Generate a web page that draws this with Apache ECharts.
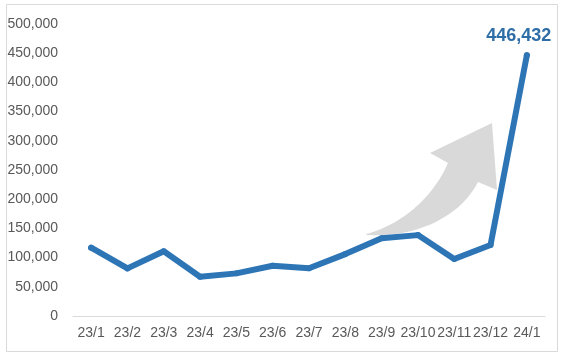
<!DOCTYPE html>
<html><head><meta charset="utf-8">
<script src="https://cdn.jsdelivr.net/npm/echarts@6/dist/echarts.min.js"></script>
<style>html,body{margin:0;padding:0;background:#fff}#c{width:563px;height:358px}</style>
</head><body><div id="c"></div>
<script>
const categories = ['23/1','23/2','23/3','23/4','23/5','23/6','23/7','23/8','23/9','23/10','23/11','23/12','24/1'];
const values = [117000, 81500, 111000, 67300, 73000, 86000, 81700, 106000, 133000, 138500, 97600, 121600, 446432];
const yTicks = {min: 0, max: 500000, interval: 50000};

function bez(p0, p1, p2, p3, n) {
  const out = [];
  for (let i = 0; i <= n; i++) {
    const t = i / n, u = 1 - t;
    out.push([
      u*u*u*p0[0] + 3*u*u*t*p1[0] + 3*u*t*t*p2[0] + t*t*t*p3[0],
      u*u*u*p0[1] + 3*u*u*t*p1[1] + 3*u*t*t*p2[1] + t*t*t*p3[1]
    ]);
  }
  return out;
}
const arrowPts = [].concat(
  bez([366,234],[398,226],[432,200],[448,163], 20),
  [[430,153],[492,123],[497,190]],
  bez([478,182],[462,214],[420,238],[367,235], 20)
);

const chart = echarts.init(document.getElementById('c'), null, {renderer: 'canvas'});
const lastIdx = values.length - 1;
chart.setOption({
  animation: false,
  backgroundColor: '#fff',
  graphic: [
    {type: 'rect', shape: {x: 6.5, y: 4.5, width: 551, height: 347}, style: {fill: 'none', stroke: '#d9d9d9', lineWidth: 1}, z: -10},
    {type: 'polygon', shape: {points: arrowPts}, style: {fill: '#d9d9d9'}, z: -5}
  ],
  grid: {left: 73, right: 18, top: 24, bottom: 42, containLabel: false},
  xAxis: {
    type: 'category', data: categories, boundaryGap: true,
    axisLine: {lineStyle: {color: '#d9d9d9', width: 1}},
    axisTick: {show: false},
    axisLabel: {color: '#595959', fontFamily: 'Liberation Sans, Arial', fontSize: 14, margin: 10, interval: 0}
  },
  yAxis: {
    type: 'value', min: yTicks.min, max: yTicks.max, interval: yTicks.interval,
    splitLine: {show: false}, axisLine: {show: false}, axisTick: {show: false},
    axisLabel: {color: '#595959', fontFamily: 'Liberation Sans, Arial', fontSize: 14, margin: 15,
      formatter: v => v.toLocaleString('en-US')}
  },
  series: [{
    type: 'line',
    data: values.map((v, i) => i === lastIdx ? {value: v, label: {show: true}} : v),
    symbol: 'circle',
    symbolSize: 6,
    showSymbol: true,
    lineStyle: {color: '#2E75B6', width: 6, cap: 'round', join: 'round'},
    itemStyle: {color: '#2E75B6'},
    label: {show: false, position: 'top', distance: 7, offset: [-8, 0],
      color: '#2E6DA6', fontWeight: 'bold', fontSize: 18, fontFamily: 'Liberation Sans, Arial',
      formatter: p => p.value.toLocaleString('en-US')},
    z: 5
  }]
});
</script></body></html>
